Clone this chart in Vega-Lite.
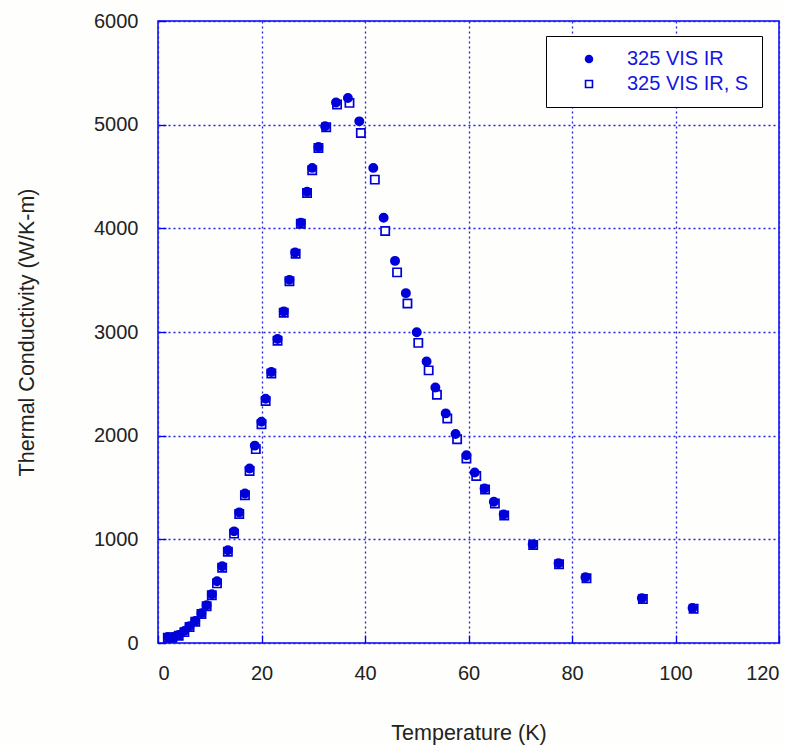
{
  "$schema": "https://vega.github.io/schema/vega-lite/v6.json",
  "width": 621,
  "height": 622,
  "autosize": {"type": "pad"},
  "padding": {"left": 16, "top": 11, "right": 5, "bottom": 2},
  "background": "#fefefc",
  "config": {
    "font": "Liberation Sans",
    "view": {"stroke": "#0000ff", "strokeWidth": 1.5},
    "axis": {
      "domain": false,
      "grid": true,
      "gridColor": "#2222e0",
      "gridDash": [2, 3],
      "gridWidth": 1.3,
      "gridOpacity": 1,
      "ticks": true,
      "tickColor": "#0000ff",
      "tickSize": -8,
      "tickWidth": 1.3,
      "labelFont": "Liberation Sans",
      "labelFontSize": 20,
      "labelColor": "#222222",
      "titleFont": "Liberation Sans",
      "titleFontSize": 21.5,
      "titleFontWeight": "normal",
      "titleColor": "#222222",
      "format": "d"
    }
  },
  "data": {
    "values": [
      {"T": 1.9, "k": 50, "s": "325 VIS IR, S"},
      {"T": 2.8, "k": 50, "s": "325 VIS IR, S"},
      {"T": 4.0, "k": 70, "s": "325 VIS IR, S"},
      {"T": 5.1, "k": 105, "s": "325 VIS IR, S"},
      {"T": 6.1, "k": 155, "s": "325 VIS IR, S"},
      {"T": 7.2, "k": 205, "s": "325 VIS IR, S"},
      {"T": 8.4, "k": 280, "s": "325 VIS IR, S"},
      {"T": 9.4, "k": 355, "s": "325 VIS IR, S"},
      {"T": 10.4, "k": 460, "s": "325 VIS IR, S"},
      {"T": 11.4, "k": 575, "s": "325 VIS IR, S"},
      {"T": 12.4, "k": 725, "s": "325 VIS IR, S"},
      {"T": 13.5, "k": 880, "s": "325 VIS IR, S"},
      {"T": 14.7, "k": 1055, "s": "325 VIS IR, S"},
      {"T": 15.7, "k": 1245, "s": "325 VIS IR, S"},
      {"T": 16.8, "k": 1425, "s": "325 VIS IR, S"},
      {"T": 17.7, "k": 1660, "s": "325 VIS IR, S"},
      {"T": 18.9, "k": 1870, "s": "325 VIS IR, S"},
      {"T": 20.0, "k": 2110, "s": "325 VIS IR, S"},
      {"T": 20.8, "k": 2335, "s": "325 VIS IR, S"},
      {"T": 21.9, "k": 2600, "s": "325 VIS IR, S"},
      {"T": 23.1, "k": 2915, "s": "325 VIS IR, S"},
      {"T": 24.3, "k": 3185, "s": "325 VIS IR, S"},
      {"T": 25.4, "k": 3490, "s": "325 VIS IR, S"},
      {"T": 26.6, "k": 3755, "s": "325 VIS IR, S"},
      {"T": 27.6, "k": 4045, "s": "325 VIS IR, S"},
      {"T": 28.8, "k": 4340, "s": "325 VIS IR, S"},
      {"T": 29.8, "k": 4560, "s": "325 VIS IR, S"},
      {"T": 31.0, "k": 4775, "s": "325 VIS IR, S"},
      {"T": 32.5, "k": 4975, "s": "325 VIS IR, S"},
      {"T": 34.6, "k": 5195, "s": "325 VIS IR, S"},
      {"T": 37.0, "k": 5210, "s": "325 VIS IR, S"},
      {"T": 39.2, "k": 4920, "s": "325 VIS IR, S"},
      {"T": 41.9, "k": 4470, "s": "325 VIS IR, S"},
      {"T": 43.9, "k": 3975, "s": "325 VIS IR, S"},
      {"T": 46.2, "k": 3575, "s": "325 VIS IR, S"},
      {"T": 48.2, "k": 3275, "s": "325 VIS IR, S"},
      {"T": 50.3, "k": 2895, "s": "325 VIS IR, S"},
      {"T": 52.3, "k": 2630, "s": "325 VIS IR, S"},
      {"T": 53.9, "k": 2395, "s": "325 VIS IR, S"},
      {"T": 55.9, "k": 2165, "s": "325 VIS IR, S"},
      {"T": 57.8, "k": 1965, "s": "325 VIS IR, S"},
      {"T": 59.6, "k": 1780, "s": "325 VIS IR, S"},
      {"T": 61.5, "k": 1610, "s": "325 VIS IR, S"},
      {"T": 63.2, "k": 1480, "s": "325 VIS IR, S"},
      {"T": 65.1, "k": 1345, "s": "325 VIS IR, S"},
      {"T": 66.9, "k": 1230, "s": "325 VIS IR, S"},
      {"T": 72.5, "k": 945, "s": "325 VIS IR, S"},
      {"T": 77.5, "k": 760, "s": "325 VIS IR, S"},
      {"T": 82.8, "k": 625, "s": "325 VIS IR, S"},
      {"T": 93.7, "k": 425, "s": "325 VIS IR, S"},
      {"T": 103.5, "k": 330, "s": "325 VIS IR, S"},
      {"T": 1.9, "k": 58, "s": "325 VIS IR"},
      {"T": 2.8, "k": 58, "s": "325 VIS IR"},
      {"T": 4.0, "k": 77, "s": "325 VIS IR"},
      {"T": 5.1, "k": 115, "s": "325 VIS IR"},
      {"T": 6.1, "k": 163, "s": "325 VIS IR"},
      {"T": 7.2, "k": 212, "s": "325 VIS IR"},
      {"T": 8.4, "k": 288, "s": "325 VIS IR"},
      {"T": 9.4, "k": 365, "s": "325 VIS IR"},
      {"T": 10.4, "k": 471, "s": "325 VIS IR"},
      {"T": 11.4, "k": 596, "s": "325 VIS IR"},
      {"T": 12.4, "k": 740, "s": "325 VIS IR"},
      {"T": 13.5, "k": 894, "s": "325 VIS IR"},
      {"T": 14.7, "k": 1077, "s": "325 VIS IR"},
      {"T": 15.7, "k": 1260, "s": "325 VIS IR"},
      {"T": 16.8, "k": 1442, "s": "325 VIS IR"},
      {"T": 17.7, "k": 1683, "s": "325 VIS IR"},
      {"T": 18.7, "k": 1904, "s": "325 VIS IR"},
      {"T": 20.0, "k": 2135, "s": "325 VIS IR"},
      {"T": 20.8, "k": 2356, "s": "325 VIS IR"},
      {"T": 21.9, "k": 2615, "s": "325 VIS IR"},
      {"T": 23.1, "k": 2933, "s": "325 VIS IR"},
      {"T": 24.3, "k": 3199, "s": "325 VIS IR"},
      {"T": 25.4, "k": 3503, "s": "325 VIS IR"},
      {"T": 26.5, "k": 3766, "s": "325 VIS IR"},
      {"T": 27.6, "k": 4055, "s": "325 VIS IR"},
      {"T": 28.8, "k": 4353, "s": "325 VIS IR"},
      {"T": 29.8, "k": 4583, "s": "325 VIS IR"},
      {"T": 31.0, "k": 4785, "s": "325 VIS IR"},
      {"T": 32.3, "k": 4984, "s": "325 VIS IR"},
      {"T": 34.4, "k": 5214, "s": "325 VIS IR"},
      {"T": 36.7, "k": 5257, "s": "325 VIS IR"},
      {"T": 38.9, "k": 5032, "s": "325 VIS IR"},
      {"T": 41.6, "k": 4583, "s": "325 VIS IR"},
      {"T": 43.6, "k": 4103, "s": "325 VIS IR"},
      {"T": 45.8, "k": 3686, "s": "325 VIS IR"},
      {"T": 47.9, "k": 3375, "s": "325 VIS IR"},
      {"T": 50.0, "k": 2997, "s": "325 VIS IR"},
      {"T": 51.9, "k": 2715, "s": "325 VIS IR"},
      {"T": 53.6, "k": 2465, "s": "325 VIS IR"},
      {"T": 55.6, "k": 2215, "s": "325 VIS IR"},
      {"T": 57.5, "k": 2016, "s": "325 VIS IR"},
      {"T": 59.6, "k": 1811, "s": "325 VIS IR"},
      {"T": 61.2, "k": 1644, "s": "325 VIS IR"},
      {"T": 63.1, "k": 1490, "s": "325 VIS IR"},
      {"T": 64.9, "k": 1362, "s": "325 VIS IR"},
      {"T": 66.8, "k": 1240, "s": "325 VIS IR"},
      {"T": 72.4, "k": 952, "s": "325 VIS IR"},
      {"T": 77.4, "k": 769, "s": "325 VIS IR"},
      {"T": 82.6, "k": 635, "s": "325 VIS IR"},
      {"T": 93.5, "k": 433, "s": "325 VIS IR"},
      {"T": 103.3, "k": 337, "s": "325 VIS IR"}
    ]
  },
  "mark": {"type": "point", "size": 68, "strokeWidth": 1.7, "opacity": 1},
  "encoding": {
    "x": {
      "field": "T",
      "type": "quantitative",
      "scale": {"domain": [0, 120], "nice": false, "zero": false},
      "axis": {"title": "Temperature (K)", "values": [0, 20, 40, 60, 80, 100, 120], "labelPadding": 28, "titlePadding": 39}
    },
    "y": {
      "field": "k",
      "type": "quantitative",
      "scale": {"domain": [0, 6000], "nice": false},
      "axis": {"title": "Thermal Conductivity (W/K-m)", "values": [0, 1000, 2000, 3000, 4000, 5000, 6000], "labelPadding": 28, "titlePadding": 55}
    },
    "shape": {
      "field": "s",
      "type": "nominal",
      "scale": {"domain": ["325 VIS IR", "325 VIS IR, S"], "range": ["circle", "square"]},
      "legend": {
        "title": null,
        "orient": "none",
        "legendX": 388,
        "legendY": 15,
        "fillColor": "#ffffff",
        "strokeColor": "#000000",
        "padding": 13,
        "rowPadding": 5,
        "symbolSize": 48,
        "symbolStrokeWidth": 1.6,
        "symbolOffset": 20,
        "labelOffset": 28,
        "labelFont": "Liberation Sans",
        "labelFontSize": 20,
        "labelColor": "#1515e0"
      }
    },
    "fill": {
      "field": "s",
      "type": "nominal",
      "scale": {"domain": ["325 VIS IR", "325 VIS IR, S"], "range": ["#0000d8", "#ffffff"]}
    },
    "stroke": {
      "field": "s",
      "type": "nominal",
      "scale": {"domain": ["325 VIS IR", "325 VIS IR, S"], "range": ["#0000d8", "#0000d8"]}
    }
  }
}
